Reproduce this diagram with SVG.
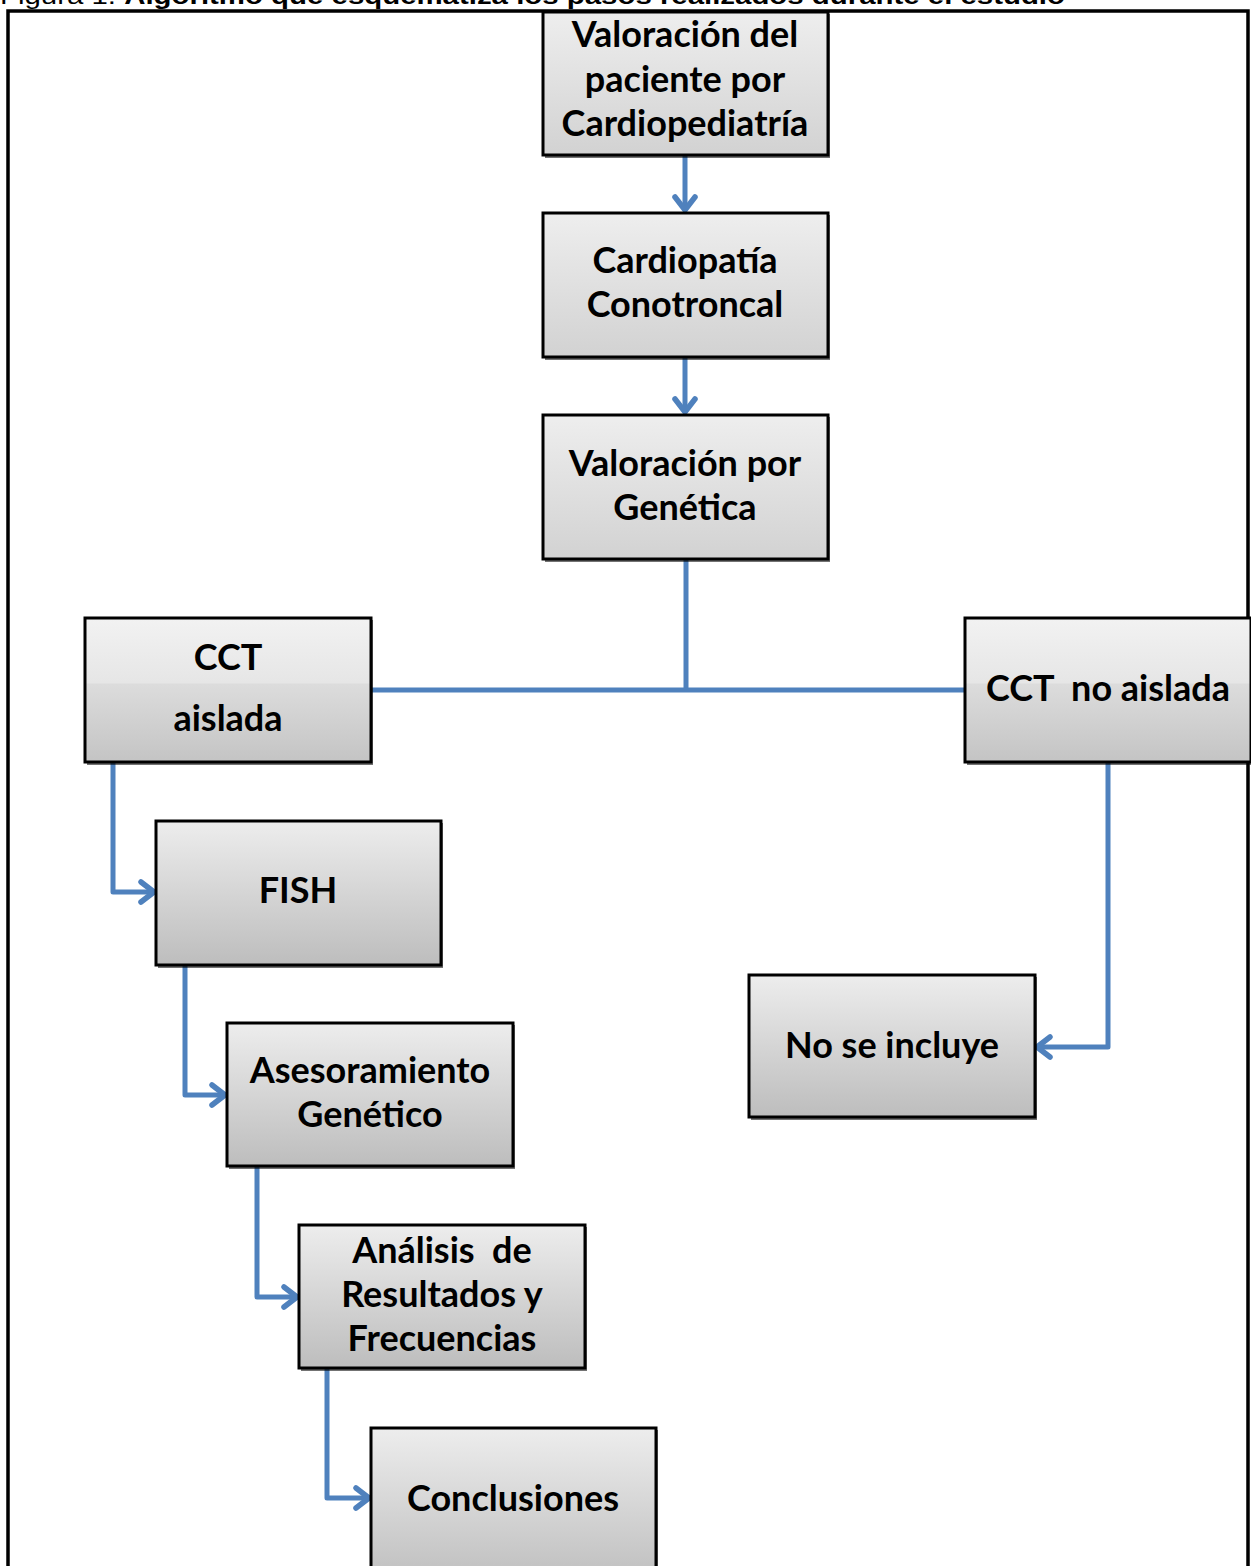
<svg xmlns="http://www.w3.org/2000/svg" width="1251" height="1566" viewBox="0 0 1251 1566">
<style>
.box{stroke:#000;stroke-width:3;fill:url(#g)}
.gl{stroke:#000;stroke-width:3;fill:url(#g2)}
.sh{fill:#000;opacity:0.55}
.t{font-family:Lato,"Open Sans","Liberation Sans",sans-serif;font-weight:bold;font-size:36px;fill:#000;text-anchor:middle}
.c{fill:none;stroke:#4f81bd;stroke-width:5;stroke-linejoin:round}
.cap{font-family:"Liberation Sans",Arial,sans-serif;font-size:23px;fill:#000}
</style>
<defs>
<linearGradient id="g" x1="0" y1="0" x2="0" y2="1">
<stop offset="0" stop-color="#ededed"/>
<stop offset="1" stop-color="#bdbdbd"/>
</linearGradient>
<linearGradient id="g2" x1="0" y1="0" x2="0" y2="1">
<stop offset="0" stop-color="#f2f2f2"/>
<stop offset="0.45" stop-color="#e6e6e6"/>
<stop offset="0.46" stop-color="#dcdcdc"/>
<stop offset="1" stop-color="#c4c4c4"/>
</linearGradient>
<linearGradient id="g3" x1="0" y1="0" x2="0" y2="1">
<stop offset="0" stop-color="#eeeeee"/>
<stop offset="1" stop-color="#d2d2d2"/>
</linearGradient>
<marker id="a" viewBox="0 0 20 26" refX="17" refY="13" markerWidth="20" markerHeight="26" markerUnits="userSpaceOnUse" orient="auto">
<path d="M4 3 L17 13 L4 23" fill="none" stroke="#4f81bd" stroke-width="5.5" stroke-linecap="round" stroke-linejoin="round"/>
</marker>
</defs>
<rect width="1251" height="1566" fill="#fff"/>
<text class="cap" x="0" y="4" textLength="1065" lengthAdjust="spacingAndGlyphs">Figura 1. <tspan font-weight="bold">Algoritmo que esquematiza los pasos realizados durante el estudio</tspan></text>
<path d="M8 1566 V11 H1248 V1566" fill="none" stroke="#000" stroke-width="3.5"/>

<g id="connectors">
<path class="c" d="M685 156 V210" marker-end="url(#a)"/>
<path class="c" d="M685 358 V412" marker-end="url(#a)"/>
<path class="c" d="M686 560 V690"/>
<path class="c" d="M372 690 H964"/>
<path class="c" d="M113 763 V892 H154" marker-end="url(#a)"/>
<path class="c" d="M185 966 V1095 H225" marker-end="url(#a)"/>
<path class="c" d="M257 1167 V1297 H297" marker-end="url(#a)"/>
<path class="c" d="M327 1369 V1498 H369" marker-end="url(#a)"/>
<path class="c" d="M1108 763 V1047 H1037" marker-end="url(#a)"/>
</g>

<g id="n1">
<rect class="sh" x="545" y="14" width="285" height="144"/>
<rect x="543" y="12" width="285" height="143" stroke="#000" stroke-width="3" fill="url(#g3)"/>
<text class="t" x="685" y="47">Valoración del</text>
<text class="t" x="685" y="92">paciente por</text>
<text class="t" x="685" y="136">Cardiopediatría</text>
</g>
<g id="n2">
<rect class="sh" x="545" y="215" width="285" height="145"/>
<rect x="543" y="213" width="285" height="144" stroke="#000" stroke-width="3" fill="url(#g3)"/>
<text class="t" x="685" y="273">Cardiopatía</text>
<text class="t" x="685" y="317">Conotroncal</text>
</g>
<g id="n3">
<rect class="sh" x="545" y="417" width="285" height="145"/>
<rect x="543" y="415" width="285" height="144" stroke="#000" stroke-width="3" fill="url(#g3)"/>
<text class="t" x="685" y="476">Valoración por</text>
<text class="t" x="685" y="520">Genética</text>
</g>
<g id="n4">
<rect class="sh" x="87" y="620" width="286" height="145"/>
<rect class="gl" x="85" y="618" width="286" height="144"/>
<text class="t" x="228" y="670">CCT</text>
<text class="t" x="228" y="731">aislada</text>
</g>
<g id="n5">
<rect class="sh" x="967" y="620" width="286" height="145"/>
<rect class="gl" x="965" y="618" width="286" height="144"/>
<text class="t" x="1108" y="701" xml:space="preserve">CCT  no aislada</text>
</g>
<g id="n6">
<rect class="sh" x="158" y="823" width="285" height="145"/>
<rect class="box" x="156" y="821" width="285" height="144"/>
<text class="t" x="298" y="903">FISH</text>
</g>
<g id="n7">
<rect class="sh" x="751" y="977" width="286" height="143"/>
<rect class="box" x="749" y="975" width="286" height="142"/>
<text class="t" x="892" y="1058">No se incluye</text>
</g>
<g id="n8">
<rect class="sh" x="229" y="1025" width="286" height="144"/>
<rect class="box" x="227" y="1023" width="286" height="143"/>
<text class="t" x="370" y="1083">Asesoramiento</text>
<text class="t" x="370" y="1127">Genético</text>
</g>
<g id="n9">
<rect class="sh" x="301" y="1227" width="286" height="144"/>
<rect class="box" x="299" y="1225" width="286" height="143"/>
<text class="t" x="442" y="1263" xml:space="preserve">Análisis  de</text>
<text class="t" x="442" y="1307">Resultados y</text>
<text class="t" x="442" y="1351">Frecuencias</text>
</g>
<g id="n10">
<rect class="sh" x="373" y="1430" width="285" height="160"/>
<rect class="box" x="371" y="1428" width="285" height="160"/>
<text class="t" x="513" y="1511">Conclusiones</text>
</g>
</svg>
